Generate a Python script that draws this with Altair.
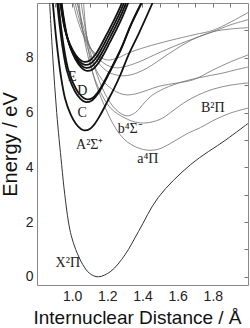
import altair as alt
import pandas as pd

# ---- curve data (R in Å, E in eV) ----
X_R = [0.872, 0.89, 0.912, 0.94, 0.958, 0.979, 0.995, 1.02, 1.06, 1.10, 1.149, 1.22, 1.30, 1.377, 1.49, 1.674, 1.874, 2.0]
X_E = [10.0, 8.0, 6.0, 4.1, 3.0, 2.0, 1.5, 1.0, 0.45, 0.12, 0.0, 0.2, 0.8, 1.65, 2.9, 4.1, 5.0, 5.6]

A_R = [0.89, 0.91, 0.935, 0.96, 0.99, 1.02, 1.05, 1.07, 1.10, 1.13, 1.16, 1.20, 1.24, 1.274, 1.32, 1.38, 1.457]
A_E = [10.0, 8.65, 7.37, 6.5, 5.95, 5.6, 5.4, 5.35, 5.4, 5.6, 5.91, 6.4, 6.9, 7.37, 8.1, 8.9, 10.0]

C_R = [0.90, 0.92, 0.945, 0.97, 1.00, 1.03, 1.06, 1.08, 1.11, 1.14, 1.17, 1.21, 1.25, 1.284, 1.33, 1.39, 1.42]
C_E = [11.03, 9.68, 8.40, 7.53, 6.98, 6.63, 6.43, 6.38, 6.43, 6.63, 6.94, 7.43, 7.93, 8.40, 9.13, 9.93, 10.3]

D_R = [0.905, 0.925, 0.95, 0.975, 1.005, 1.035, 1.065, 1.085, 1.115, 1.145, 1.175, 1.215, 1.255, 1.289, 1.335, 1.395, 1.425]
D_E = [11.13, 9.78, 8.50, 7.63, 7.08, 6.73, 6.53, 6.48, 6.53, 6.73, 7.04, 7.53, 8.03, 8.50, 9.23, 10.03, 10.4]

E1_R = [0.925, 0.95, 0.975, 1.005, 1.035, 1.065, 1.085, 1.115, 1.145, 1.175, 1.215, 1.255, 1.289, 1.335]
E1_E = [10.82, 9.54, 8.67, 8.12, 7.77, 7.57, 7.52, 7.57, 7.77, 8.08, 8.57, 9.07, 9.54, 10.27]

E2_R = [0.92, 0.945, 0.97, 1.00, 1.03, 1.06, 1.08, 1.11, 1.14, 1.17, 1.21, 1.25, 1.284, 1.33]
E2_E = [10.93, 9.65, 8.78, 8.23, 7.88, 7.68, 7.63, 7.68, 7.88, 8.19, 8.68, 9.18, 9.65, 10.38]

E3_R = [0.915, 0.94, 0.965, 0.995, 1.025, 1.055, 1.075, 1.105, 1.135, 1.165, 1.205, 1.245, 1.279, 1.325]
E3_E = [11.04, 9.76, 8.89, 8.34, 7.99, 7.79, 7.74, 7.79, 7.99, 8.30, 8.79, 9.29, 9.76, 10.49]

E4_R = [0.91, 0.935, 0.96, 0.99, 1.02, 1.05, 1.07, 1.10, 1.13, 1.16, 1.20, 1.24, 1.274, 1.32]
E4_E = [11.15, 9.87, 9.0, 8.45, 8.10, 7.90, 7.85, 7.90, 8.10, 8.41, 8.90, 9.40, 9.87, 10.6]

B_R = [1.03, 1.06, 1.10, 1.15, 1.22, 1.30, 1.36, 1.42, 1.50, 1.56, 1.634, 1.72, 1.80, 1.90, 2.0]
B_E = [10.5, 9.0, 7.8, 6.9, 6.15, 5.8, 5.65, 5.62, 5.75, 6.0, 6.35, 6.65, 6.85, 7.0, 7.08]

a_R = [1.06, 1.08, 1.12, 1.18, 1.24, 1.30, 1.37, 1.44, 1.50, 1.58, 1.66, 1.73, 1.80, 1.90, 2.0]
a_E = [10.5, 8.9, 7.37, 6.3, 5.5, 5.0, 4.72, 4.62, 4.68, 4.95, 5.25, 5.45, 5.7, 5.98, 6.16]

b_R = [1.04, 1.08, 1.13, 1.19, 1.25, 1.31, 1.36, 1.41, 1.457, 1.55, 1.66, 1.76, 1.863, 1.93, 2.0]
b_E = [10.5, 8.9, 7.6, 6.65, 6.1, 5.88, 6.0, 6.35, 6.64, 6.95, 7.18, 7.32, 7.45, 7.56, 7.66]

T4_R = [1.02, 1.06, 1.11, 1.17, 1.24, 1.30, 1.36, 1.42, 1.50, 1.60, 1.69, 1.80, 1.90, 2.0]
T4_E = [10.5, 9.0, 7.95, 7.2, 6.8, 6.65, 6.68, 6.8, 6.97, 7.08, 7.2, 7.55, 7.85, 8.1]

T1_R = [0.99, 1.03, 1.08, 1.14, 1.20, 1.257, 1.33, 1.45, 1.60, 1.70, 1.80, 1.90, 2.0]
T1_E = [10.5, 9.4, 8.6, 8.1, 7.92, 7.99, 8.2, 8.45, 8.7, 8.85, 9.0, 9.3, 9.65]

T2_R = [1.00, 1.05, 1.11, 1.18, 1.24, 1.29, 1.38, 1.50, 1.65, 1.80, 1.90, 2.0]
T2_E = [10.5, 9.2, 8.3, 7.8, 7.64, 7.66, 7.85, 8.2, 8.6, 8.95, 9.2, 9.39]

T3_R = [1.01, 1.07, 1.13, 1.20, 1.27, 1.33, 1.42, 1.55, 1.68, 1.80, 1.90, 2.0]
T3_E = [10.5, 9.0, 8.0, 7.5, 7.35, 7.37, 7.6, 8.15, 8.65, 8.95, 9.05, 9.1]

thick_curves = {"A": (A_R, A_E), "C": (C_R, C_E), "D": (D_R, D_E),
                "E1": (E1_R, E1_E), "E2": (E2_R, E2_E), "E3": (E3_R, E3_E), "E4": (E4_R, E4_E)}
thin_curves = {"B": (B_R, B_E), "a": (a_R, a_E), "b": (b_R, b_E), "T1": (T1_R, T1_E),
               "T2": (T2_R, T2_E), "T3": (T3_R, T3_E), "T4": (T4_R, T4_E)}

def frame(curves):
    rows = []
    for name, (rs, es) in curves.items():
        for i, (r, e) in enumerate(zip(rs, es)):
            rows.append({"curve": name, "R": r, "E": e, "order": i})
    return pd.DataFrame(rows)

thick_df = frame(thick_curves)
thin_df = frame(thin_curves)
x_df = frame({"X": (X_R, X_E)})

# labels
lab_text = ["E", "D", "C", "A²Σ⁺", "b⁴Σ⁻", "a⁴Π", "B²Π", "X²Π"]
lab_R = [1.00, 1.057, 1.057, 1.10, 1.33, 1.43, 1.80, 0.975]
lab_E = [7.3, 6.8, 6.0, 4.8, 5.4, 4.3, 6.15, 0.5]
lab_df = pd.DataFrame({"t": lab_text, "R": lab_R, "E": lab_E})

x_major = [1.0, 1.2, 1.4, 1.6, 1.8]
x_minor = [0.9, 1.0, 1.1, 1.2, 1.3, 1.4, 1.5, 1.6, 1.7, 1.8, 1.9]
y_major = [0, 2, 4, 6, 8]
y_minor = [0, 1, 2, 3, 4, 5, 6, 7, 8, 9]

xs = alt.Scale(domain=[0.8, 2.0], nice=False, zero=False)
ys = alt.Scale(domain=[-0.3, 10.0], nice=False, zero=False)

FONT = "Liberation Sans"

x_axis_main = alt.Axis(values=x_major, format=".1f", ticks=False, domain=False, grid=False,
                       labelFontSize=14, labelFont=FONT, labelColor="#222", labelPadding=4,
                       title="Internuclear Distance / Å", titleFont=FONT, titleFontSize=19,
                       titleFontWeight="normal", titleColor="#111", titlePadding=5,
                       titleX=100, titleAnchor="middle")
y_axis_main = alt.Axis(values=y_major, format="d", ticks=False, domain=False, grid=False,
                       labelFontSize=14, labelFont=FONT, labelColor="#222", labelPadding=4,
                       title="Energy / eV", titleFont=FONT, titleFontSize=20,
                       titleFontWeight="normal", titleColor="#111", titlePadding=5)
x_axis_ticks = alt.Axis(values=x_minor, labels=False, ticks=True, tickSize=4, tickColor="#777",
                        domain=False, grid=False, title=None, offset=-4)
y_axis_ticks = alt.Axis(values=y_minor, labels=False, ticks=True, tickSize=4, tickColor="#777",
                        domain=False, grid=False, title=None, offset=-4)

thin = alt.Chart(thin_df).mark_line(color="#707070", strokeWidth=0.8, interpolate="catmull-rom", clip=True).encode(
    x=alt.X("R:Q", scale=xs, axis=x_axis_main),
    y=alt.Y("E:Q", scale=ys, axis=y_axis_main),
    detail="curve:N", order="order:Q")

xline = alt.Chart(x_df).mark_line(color="#333", strokeWidth=1.0, interpolate="catmull-rom", clip=True).encode(
    x=alt.X("R:Q", scale=xs, axis=x_axis_ticks),
    y=alt.Y("E:Q", scale=ys, axis=y_axis_ticks),
    order="order:Q")

thick = alt.Chart(thick_df).mark_line(color="#111", strokeWidth=1.8, interpolate="catmull-rom", clip=True).encode(
    x=alt.X("R:Q", scale=xs, axis=None),
    y=alt.Y("E:Q", scale=ys, axis=None),
    detail="curve:N", order="order:Q")

labels = alt.Chart(lab_df).mark_text(font="Liberation Serif", fontSize=14, color="#222").encode(
    x=alt.X("R:Q", scale=xs, axis=None),
    y=alt.Y("E:Q", scale=ys, axis=None),
    text="t:N")

chart = alt.layer(thin, xline, thick, labels).resolve_axis(x="independent", y="independent").properties(
    width=211, height=282,
    autosize=alt.AutoSizeParams(type="none"),
    padding={"left": 37, "top": 3, "right": 2, "bottom": 43},
).configure_view(stroke="#888", strokeWidth=1)

chart.save("out.html", embed_options={"renderer": "svg", "actions": False})
